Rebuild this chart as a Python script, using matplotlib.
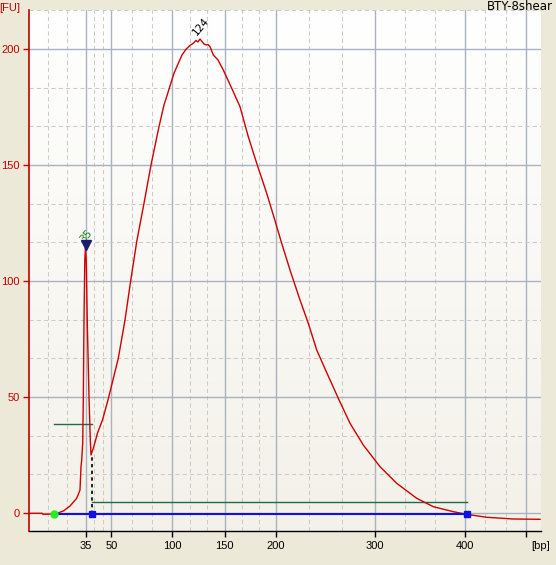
import numpy as np
import matplotlib
matplotlib.use('Agg')
import matplotlib.pyplot as plt
from matplotlib.colors import LinearSegmentedColormap

# electropherogram trace: migration time (s) vs fluorescence (FU)
time_s = [39.94, 41.2, 41.3, 42.5, 43.33, 44.0, 44.67, 45.0, 45.1, 45.17, 45.27, 45.33,
          45.4, 45.48, 45.55, 45.63, 45.73, 45.9, 46.03, 46.1, 46.4, 46.75, 47.25, 47.8,
          48.83, 49.5, 50.07, 50.67, 51.4, 52.1, 52.9, 53.4, 53.93, 54.4, 54.83, 55.2,
          55.6, 56.0, 56.33, 56.6, 56.8, 57.0, 57.2, 57.4, 57.6, 57.8, 58.0, 58.33,
          58.8, 59.33, 60.17, 61.0, 61.83, 62.67, 63.67, 64.33, 65.17, 66.0, 67.0, 67.83,
          68.67, 69.6, 70.83, 72.0, 73.33, 75.0, 76.67, 78.67, 80.33, 82.33, 83.67, 85.67,
          88.33, 91.0]
fu = [-0.13, -0.13, -0.56, -0.43, 0.86, 3.02, 6.34, 9.91, 19.96, 22.84, 30.04, 48.7,
      83.2, 109.05, 114.2, 108.2, 81.9, 50.0, 31.47, 25.0, 28.88, 34.48, 40.09, 48.71,
      66.68, 83.19, 100.13, 116.94, 133.49, 150.0, 166.51, 175.86, 183.06, 189.53, 193.84, 197.41,
      199.87, 201.51, 202.46, 203.66, 203.02, 204.31, 203.23, 202.16, 201.72, 201.94, 200.99, 197.41,
      195.26, 190.95, 183.06, 175.13, 162.2, 150.73, 137.8, 128.45, 116.25, 104.74, 91.81, 81.77,
      70.26, 61.2, 49.44, 38.66, 29.31, 19.96, 12.8, 6.34, 2.72, 0.56, -0.56, -1.85,
      -2.59, -2.72]

# ladder sizes and where they sit on the time axis
bp_labels = ['35', '50', '100', '150', '200', '300', '400', '']
bp_time = [45.55, 48.13, 54.23, 59.45, 64.55, 74.48, 83.45, 89.62]
fu_ticks = [0, 50, 100, 150, 200]

# peaks
peak_time = [45.55, 57.0]
peak_fu = [114.2, 204.31]
peak_names = ['35', '124']

# region / baseline markers
region_start, region_end = 46.2, 83.67
baseline_start = 42.4
baseline_fu = -0.56
region_fu = 4.6
marker_line_t = [42.4, 46.17]
marker_line_fu = 38.2

xmin, xmax = 39.94, 91.1
ymin, ymax = -7.76, 216.8

plt.rcParams['font.family'] = 'DejaVu Sans'

fig = plt.figure(figsize=(5.56, 5.65), dpi=100, facecolor='#ECE9D8')
ax = fig.add_axes([29.4/556, 34/565, (541-29.4)/556, 521/565])
ax.patch.set_visible(False)

# plot area gradient, white at the top to light beige at the bottom
cmap = LinearSegmentedColormap.from_list('bg', ['#F3F1E8', '#FFFFFF'])
ax.imshow(np.linspace(0, 1, 256).reshape(-1, 1), extent=[0, 1, 0, 1], transform=ax.transAxes,
          cmap=cmap, aspect='auto', origin='lower', zorder=0)

# grid: solid at labelled ticks, dashed at thirds
edges = [xmin] + bp_time
xminor = []
for a, b in zip(edges[:-1], edges[1:]):
    xminor += [a + (b-a)/3, a + 2*(b-a)/3]
yminor = []
for a in fu_ticks:
    yminor += [a + 50/3, a + 100/3]

ax.set_xticks(bp_time)
ax.set_xticklabels(bp_labels, family='Liberation Sans', fontsize=8)
ax.set_xticks(xminor, minor=True)
ax.set_yticks(fu_ticks)
ax.set_yticklabels([str(v) for v in fu_ticks], family='Liberation Sans', fontsize=8)
ax.set_yticks(yminor, minor=True)
ax.set_axisbelow(True)
ax.grid(True, which='major', color='#A9B2C0', lw=1.0)
ax.grid(True, which='minor', color='#CACACA', lw=0.75, linestyle=(0, (4, 3)))

ax.plot(time_s, fu, color='#D00000', lw=1.0, zorder=3)

# region lines
ax.plot([baseline_start, region_end], [baseline_fu, baseline_fu], color='#1010E0', lw=1.5, zorder=4)
ax.plot([region_start, region_end], [region_fu, region_fu], color='#1F6A48', lw=1.0, zorder=2)
ax.plot(marker_line_t, [marker_line_fu, marker_line_fu], color='#1F6A48', lw=1.0, zorder=2)
ax.plot([region_start, region_start], [baseline_fu, 25.0], color='black', lw=1.2,
        linestyle=(0, (2, 2)), zorder=4)
ax.plot([baseline_start], [baseline_fu], 'o', color='#22EE22', ms=5, zorder=5)
ax.plot([region_start, region_end], [baseline_fu, baseline_fu], 's', color='#1010E0', ms=4.5, zorder=5)

# peak markers / labels
ax.plot([peak_time[0]], [115.5], 'v', color='#1A1A70', ms=7.5, zorder=5)
ax.text(peak_time[0] + 0.05, 119.6, peak_names[0], rotation=50, ha='center', va='center',
        color='#118811', fontsize=7.5)
ax.text(peak_time[1] + 0.1, 209.5, peak_names[1], rotation=50, ha='center', va='center',
        color='black', fontsize=7.5)

ax.set_xlim(xmin, xmax)
ax.set_ylim(ymin, ymax)

for s in ['top', 'right']:
    ax.spines[s].set_visible(False)
ax.spines['left'].set_color('#C00000')
ax.spines['left'].set_linewidth(1.2)
ax.spines['bottom'].set_color('black')
ax.spines['bottom'].set_linewidth(1.0)

ax.tick_params(axis='y', which='major', colors='#C00000', labelcolor='#C00000',
               length=4, width=1, pad=3)
ax.tick_params(axis='x', which='major', colors='black', length=4.5, width=1, pad=2.5)
ax.tick_params(which='minor', length=0)

fig.text(10/556, 1 - 8.3/565, '[FU]', color='#C00000', ha='center', va='center',
         family='Liberation Sans', fontsize=8)
fig.text(540.6/556, 1 - 546/565, '[bp]', color='black', ha='center', va='center',
         family='Liberation Sans', fontsize=8)
fig.text(553/556, 1 - 7/565, 'BTY-8shear', color='black', ha='right', va='center', fontsize=8.5)

fig.savefig('out.png', dpi=100, facecolor=fig.get_facecolor())
